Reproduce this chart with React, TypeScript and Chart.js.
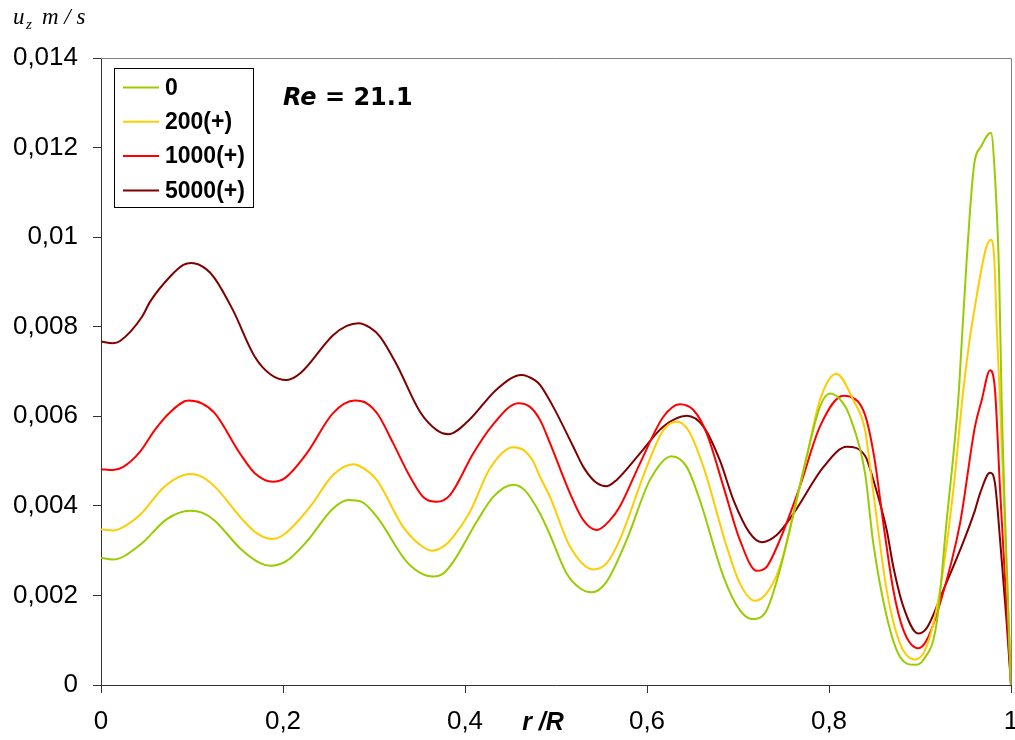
import React, { useEffect, useRef } from 'react';
import { Chart, registerables } from 'chart.js';

Chart.register(...registerables);

// ---- data ----
const SERIES_LABELS = ['0', '200(+)', '1000(+)', '5000(+)'];
const SERIES_COLORS = ['#99cc00', '#ffcc00', '#ff0000', '#800000'];

const X_0 = [0, 0.013, 0.043, 0.072, 0.098, 0.111, 0.125, 0.153, 0.175, 0.186, 0.204, 0.226, 0.255, 0.272, 0.2865, 0.303, 0.336, 0.354, 0.365, 0.376, 0.387, 0.413, 0.431, 0.453, 0.466, 0.4824, 0.4934, 0.5117, 0.5264, 0.539, 0.5557, 0.5777, 0.6033, 0.627, 0.6436, 0.658, 0.684, 0.702, 0.716, 0.7315, 0.746, 0.772, 0.79, 0.801, 0.8157, 0.823, 0.8396, 0.8487, 0.8634, 0.878, 0.8945, 0.9036, 0.9183, 0.929, 0.942, 0.9458, 0.9513, 0.955, 0.9597, 0.967, 0.978, 0.9824, 0.987, 0.9897, 1.0];
const Y_0 = [0.00284, 0.0028, 0.00313, 0.0037, 0.00389, 0.00385, 0.00367, 0.00305, 0.00272, 0.00266, 0.00277, 0.0032, 0.00394, 0.00413, 0.00409, 0.00376, 0.00275, 0.00247, 0.00242, 0.00249, 0.00275, 0.00365, 0.0042, 0.00447, 0.00434, 0.00383, 0.00335, 0.00249, 0.00216, 0.00207, 0.00231, 0.00324, 0.00458, 0.00511, 0.00487, 0.00413, 0.00242, 0.00167, 0.00147, 0.00167, 0.00257, 0.0048, 0.00621, 0.00651, 0.00629, 0.00599, 0.00473, 0.00316, 0.00153, 0.00063, 0.00045, 0.00056, 0.00138, 0.00361, 0.00636, 0.00764, 0.00949, 0.0106, 0.01165, 0.01202, 0.01233, 0.01135, 0.00912, 0.00636, 0];

const X_200 = [0, 0.013, 0.028, 0.043, 0.0703, 0.0978, 0.1088, 0.125, 0.156, 0.171, 0.1876, 0.2003, 0.2297, 0.255, 0.277, 0.29, 0.303, 0.332, 0.3505, 0.3634, 0.376, 0.387, 0.4055, 0.4275, 0.453, 0.464, 0.475, 0.4824, 0.4934, 0.5154, 0.541, 0.5557, 0.57, 0.5997, 0.618, 0.6326, 0.6454, 0.662, 0.6876, 0.702, 0.7187, 0.7315, 0.746, 0.7755, 0.79, 0.808, 0.8267, 0.8396, 0.8487, 0.8634, 0.878, 0.8945, 0.9073, 0.922, 0.9366, 0.9476, 0.955, 0.9604, 0.966, 0.9725, 0.9777, 0.9817, 0.9843, 0.9879, 1.0];
const Y_200 = [0.00348, 0.00345, 0.00357, 0.0038, 0.00444, 0.00471, 0.00467, 0.00443, 0.00368, 0.00339, 0.00326, 0.00335, 0.00398, 0.00469, 0.00493, 0.00482, 0.00458, 0.00353, 0.00313, 0.003, 0.00309, 0.00331, 0.00387, 0.00484, 0.00531, 0.00525, 0.00499, 0.00465, 0.0042, 0.00309, 0.00258, 0.00272, 0.00324, 0.00487, 0.00569, 0.00588, 0.00569, 0.00487, 0.00309, 0.00227, 0.00188, 0.00205, 0.00264, 0.0051, 0.00636, 0.00695, 0.00636, 0.00569, 0.0043, 0.00212, 0.00093, 0.00057, 0.00086, 0.00212, 0.00435, 0.00659, 0.00778, 0.00845, 0.00912, 0.00975, 0.00994, 0.00949, 0.008, 0.00636, 0];

const X_1000 = [0, 0.013, 0.0245, 0.043, 0.059, 0.076, 0.096, 0.1107, 0.125, 0.1527, 0.169, 0.189, 0.202, 0.226, 0.255, 0.279, 0.292, 0.3047, 0.321, 0.3396, 0.354, 0.369, 0.3835, 0.409, 0.429, 0.4586, 0.4714, 0.4824, 0.4934, 0.5154, 0.53, 0.5447, 0.5593, 0.57, 0.5923, 0.618, 0.636, 0.651, 0.6656, 0.684, 0.702, 0.7205, 0.7315, 0.746, 0.768, 0.79, 0.8157, 0.823, 0.8396, 0.85, 0.8597, 0.8707, 0.8817, 0.898, 0.9073, 0.922, 0.944, 0.9604, 0.9678, 0.977, 0.9824, 0.988, 1.0];
const Y_1000 = [0.00482, 0.0048, 0.00487, 0.00521, 0.00569, 0.00609, 0.00635, 0.00629, 0.00607, 0.00517, 0.00473, 0.00454, 0.00462, 0.00517, 0.00607, 0.00635, 0.00629, 0.00603, 0.0054, 0.00465, 0.0042, 0.00409, 0.00424, 0.00517, 0.00577, 0.00629, 0.00621, 0.00592, 0.0054, 0.00428, 0.00368, 0.00346, 0.00368, 0.00398, 0.00495, 0.00599, 0.00627, 0.00614, 0.00562, 0.00443, 0.00324, 0.00255, 0.00264, 0.00324, 0.00443, 0.00577, 0.00646, 0.00644, 0.00603, 0.00505, 0.00361, 0.00212, 0.00123, 0.00082, 0.001, 0.00182, 0.00361, 0.00577, 0.00636, 0.00703, 0.00659, 0.00435, 0];

const X_5000 = [0, 0.013, 0.021, 0.0447, 0.054, 0.076, 0.0904, 0.0996, 0.116, 0.125, 0.145, 0.169, 0.186, 0.204, 0.219, 0.255, 0.27, 0.283, 0.2956, 0.3066, 0.325, 0.3505, 0.369, 0.3817, 0.4037, 0.4348, 0.462, 0.477, 0.4824, 0.497, 0.519, 0.53, 0.543, 0.5557, 0.5667, 0.5923, 0.618, 0.6436, 0.662, 0.68, 0.695, 0.713, 0.726, 0.7425, 0.761, 0.794, 0.8195, 0.8396, 0.8487, 0.8634, 0.8707, 0.8817, 0.898, 0.9073, 0.9256, 0.944, 0.9604, 0.966, 0.977, 0.9824, 0.988, 0.9953, 1.0];
const Y_5000 = [0.00767, 0.00763, 0.00768, 0.00821, 0.00856, 0.00912, 0.00938, 0.00942, 0.00928, 0.00908, 0.00837, 0.00733, 0.00694, 0.00681, 0.00696, 0.00781, 0.00802, 0.00808, 0.00798, 0.00778, 0.00715, 0.0061, 0.00569, 0.0056, 0.0059, 0.0066, 0.00692, 0.0068, 0.0067, 0.00621, 0.00532, 0.00487, 0.00454, 0.00444, 0.00458, 0.00517, 0.00577, 0.00601, 0.00577, 0.00502, 0.00413, 0.00339, 0.00319, 0.00335, 0.00383, 0.00487, 0.00532, 0.00512, 0.00458, 0.00346, 0.00264, 0.00175, 0.00115, 0.00127, 0.00212, 0.00301, 0.0039, 0.00428, 0.00474, 0.0045, 0.00324, 0.00138, 0];

const SERIES_X = [X_0, X_200, X_1000, X_5000];
const SERIES_Y = [Y_0, Y_200, Y_1000, Y_5000];

const X_MIN = 0, X_MAX = 1, X_STEP = 0.2;
const Y_MIN = 0, Y_MAX = 0.014, Y_STEP = 0.002;

const Y_TITLE_MAIN = 'u';
const Y_TITLE_SUB = 'z';
const Y_TITLE_UNIT = 'm / s';
const X_TITLE = 'r /R';
const RE_ITALIC = 'Re';
const RE_REST = ' = 21.1';

const fmt = (v: number, digits: number) =>
  String(parseFloat(v.toFixed(digits))).replace('.', ',');

const annotPlugin = {
  id: 'annot',
  afterDraw(chart: any) {
    const ctx = chart.ctx as CanvasRenderingContext2D;
    const a = chart.chartArea;
    ctx.save();
    // frame top & right
    ctx.strokeStyle = '#808080';
    ctx.lineWidth = 1;
    ctx.beginPath();
    ctx.moveTo(a.left, Math.round(a.top) + 0.5);
    ctx.lineTo(Math.round(a.right) + 0.5, Math.round(a.top) + 0.5);
    ctx.lineTo(Math.round(a.right) + 0.5, a.bottom);
    ctx.stroke();

    // legend box
    const bx = Math.round(a.left + 13), by = Math.round(a.top + 10), bw = 139, bh = 139;
    ctx.fillStyle = '#ffffff';
    ctx.fillRect(bx, by, bw, bh);
    ctx.strokeStyle = '#000000';
    ctx.lineWidth = 1;
    ctx.strokeRect(bx + 0.5, by + 0.5, bw, bh);
    ctx.textBaseline = 'middle';
    ctx.textAlign = 'left';
    chart.data.datasets.forEach((ds: any, i: number) => {
      const cy = by + 19.5 + i * 34.3;
      ctx.strokeStyle = ds.borderColor;
      ctx.lineWidth = 2;
      ctx.beginPath();
      ctx.moveTo(bx + 9, cy);
      ctx.lineTo(bx + 45, cy);
      ctx.stroke();
      ctx.fillStyle = '#000000';
      ctx.font = 'bold 23px "Liberation Sans", Arial, sans-serif';
      ctx.fillText(ds.label, bx + 51, cy + 1);
    });

    // Re = 21.1
    ctx.textBaseline = 'alphabetic';
    ctx.fillStyle = '#000000';
    const rx = a.left + 182, ry = a.top + 47;
    ctx.font = 'italic bold 24px "DejaVu Sans", Verdana, sans-serif';
    ctx.fillText(RE_ITALIC, rx, ry);
    const w = ctx.measureText(RE_ITALIC).width;
    ctx.font = 'bold 24px "DejaVu Sans", Verdana, sans-serif';
    ctx.fillText(RE_REST, rx + w, ry);

    // y axis title (top-left)
    ctx.font = 'italic 23px "Liberation Serif", "Times New Roman", serif';
    ctx.fillText(Y_TITLE_MAIN, 13, 24);
    ctx.font = 'italic 15px "Liberation Serif", "Times New Roman", serif';
    ctx.fillText(Y_TITLE_SUB, 26, 29);
    ctx.font = 'italic 23px "Liberation Serif", "Times New Roman", serif';
    ctx.fillText(Y_TITLE_UNIT, 42, 24);

    // x axis title
    ctx.font = 'italic bold 25px "Liberation Sans", Arial, sans-serif';
    ctx.textAlign = 'center';
    ctx.textBaseline = 'middle';
    ctx.fillText(X_TITLE, a.left + 442, a.bottom + 38);
    ctx.restore();
  },
};

export default function App() {
  const ref = useRef<HTMLCanvasElement | null>(null);
  useEffect(() => {
    if (!ref.current) return;
    const datasets = SERIES_LABELS.map((label, i) => ({
      label,
      data: SERIES_X[i].map((x, j) => ({ x, y: SERIES_Y[i][j] })),
      borderColor: SERIES_COLORS[i],
      backgroundColor: SERIES_COLORS[i],
      borderWidth: 2,
      pointRadius: 0,
      fill: false,
      cubicInterpolationMode: 'monotone' as const,
    }));
    const tickFont = { family: '"Liberation Sans", Arial, sans-serif', size: 26 };
    const chart = new Chart(ref.current, {
      type: 'line',
      data: { datasets },
      options: {
        responsive: false,
        animation: false,
        layout: { padding: { top: 58, right: 4, left: 0, bottom: 0 } },
        plugins: { legend: { display: false }, tooltip: { enabled: false } },
        scales: {
          x: {
            type: 'linear',
            min: X_MIN,
            max: X_MAX,
            ticks: {
              stepSize: X_STEP,
              color: '#000',
              font: tickFont,
              padding: 13,
              maxRotation: 0,
              callback: (v: any) => fmt(Number(v), 1),
            },
            grid: { drawOnChartArea: false, drawTicks: true, tickLength: 8, color: '#333' },
            border: { display: true, color: '#333', width: 1 },
            afterFit: (s: any) => {
              s.height = 55;
              s.paddingLeft = 0;
              s.paddingRight = 0;
            },
          },
          y: {
            type: 'linear',
            min: Y_MIN,
            max: Y_MAX,
            ticks: {
              stepSize: Y_STEP,
              color: '#000',
              font: tickFont,
              padding: 15,
              callback: (v: any) => fmt(Number(v), 3),
            },
            grid: { drawOnChartArea: false, drawTicks: true, tickLength: 8, color: '#333' },
            border: { display: true, color: '#333', width: 1 },
            afterFit: (s: any) => {
              s.width = 101;
              s.paddingTop = 0;
              s.paddingBottom = 0;
            },
          },
        },
      },
      plugins: [annotPlugin],
    });
    return () => chart.destroy();
  }, []);
  return (
    <div style={{ position: 'absolute', left: 0, top: 0, width: 1015, height: 740, background: '#fff' }}>
      <canvas ref={ref} width={1015} height={740} style={{ display: 'block' }} />
    </div>
  );
}
